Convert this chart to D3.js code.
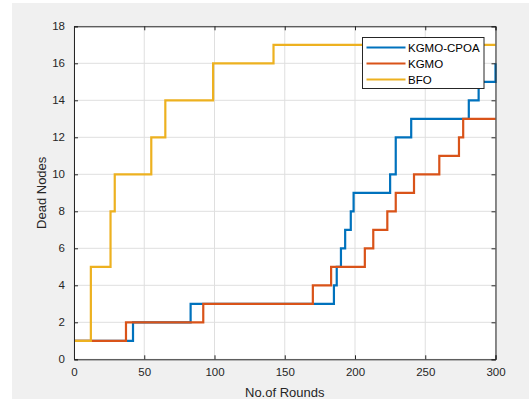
<!DOCTYPE html>
<html>
<head>
<meta charset="utf-8">
<script src="https://cdn.jsdelivr.net/npm/d3@7"></script>
<style>
  body { margin: 0; background: #fff; }
  text { font-family: "Liberation Sans", Arial, sans-serif; }
</style>
</head>
<body>
<div id="chart"></div>
<script>
// step change points: round where the count of dead nodes changes, and its new value
let cpoa_rounds = [0, 42, 83, 185, 187, 190, 193, 197, 199, 225, 229, 240, 281, 288, 300];
let cpoa_dead   = [1, 2, 3, 4, 5, 6, 7, 8, 9, 10, 12, 13, 14, 15, 16];

let kgmo_rounds = [0, 37, 92, 170, 183, 207, 213, 223, 229, 242, 260, 274, 277, 300];
let kgmo_dead   = [1, 2, 3, 4, 5, 6, 7, 8, 9, 10, 11, 12, 13, 13];

let bfo_rounds  = [0, 12, 26, 29, 55, 65, 99, 142, 300];
let bfo_dead    = [1, 5, 8, 10, 12, 14, 16, 17, 17];

let series_names = ['KGMO-CPOA', 'KGMO', 'BFO'];
let series_colors = ['#0072BD', '#D95319', '#EDB120'];

let x_ticks = [0, 50, 100, 150, 200, 250, 300];
let y_ticks = [0, 2, 4, 6, 8, 10, 12, 14, 16, 18];

let chart_width  = 529;
let chart_height = 403;
let plot_left = 74, plot_right = 495.5, plot_top = 26.3, plot_bottom = 359.3;

let svg = d3.select('#chart')
  .append('svg')
  .attr('width', chart_width)
  .attr('height', chart_height);

// figure background
svg.append('rect')
  .attr('x', 12).attr('y', 3)
  .attr('width', chart_width - 12).attr('height', 396)
  .attr('fill', '#f0f0f0');

let x_scale = d3.scaleLinear().domain([0, 300]).range([plot_left, plot_right]);
let y_scale = d3.scaleLinear().domain([0, 18]).range([plot_bottom, plot_top]);

svg.append('rect')
  .attr('x', plot_left).attr('y', plot_top)
  .attr('width', plot_right - plot_left).attr('height', plot_bottom - plot_top)
  .attr('fill', '#fff');

// grid
svg.append('g')
  .selectAll('line')
  .data(x_ticks)
  .enter()
  .append('line')
  .attr('x1', d => x_scale(d)).attr('x2', d => x_scale(d))
  .attr('y1', plot_top).attr('y2', plot_bottom)
  .attr('stroke', '#dfdfdf').attr('stroke-width', 1);

svg.append('g')
  .selectAll('line')
  .data(y_ticks)
  .enter()
  .append('line')
  .attr('x1', plot_left).attr('x2', plot_right)
  .attr('y1', d => y_scale(d)).attr('y2', d => y_scale(d))
  .attr('stroke', '#dfdfdf').attr('stroke-width', 1);

// lines
let series = [
  cpoa_rounds.map((r, i) => [r, cpoa_dead[i]]),
  kgmo_rounds.map((r, i) => [r, kgmo_dead[i]]),
  bfo_rounds.map((r, i) => [r, bfo_dead[i]])
];

let line = d3.line()
  .x(d => x_scale(d[0]))
  .y(d => y_scale(d[1]))
  .curve(d3.curveStepAfter);

svg.append('g')
  .selectAll('path')
  .data(series)
  .enter()
  .append('path')
  .attr('d', line)
  .attr('fill', 'none')
  .attr('stroke', (d, i) => series_colors[i])
  .attr('stroke-width', 2.2);

// axes
let x_axis = d3.axisBottom(x_scale).tickValues(x_ticks).tickSize(-4).tickPadding(9);
let y_axis = d3.axisLeft(y_scale).tickValues(y_ticks).tickSize(-4).tickPadding(9);

let gx = svg.append('g')
  .attr('transform', 'translate(0,' + plot_bottom + ')')
  .call(x_axis);
let gy = svg.append('g')
  .attr('transform', 'translate(' + plot_left + ',0)')
  .call(y_axis);
let gx2 = svg.append('g')
  .attr('transform', 'translate(0,' + plot_top + ')')
  .call(d3.axisTop(x_scale).tickValues(x_ticks).tickSize(-4).tickFormat(''));
let gy2 = svg.append('g')
  .attr('transform', 'translate(' + plot_right + ',0)')
  .call(d3.axisRight(y_scale).tickValues(y_ticks).tickSize(-4).tickFormat(''));

[gx, gy, gx2, gy2].forEach(g => {
  g.selectAll('.domain').attr('stroke', '#262626').attr('stroke-width', 1);
  g.selectAll('.tick line').attr('stroke', '#262626');
  g.selectAll('.tick text')
    .attr('fill', '#262626')
    .style('font-size', '11.5px')
    .style('font-family', '"Liberation Sans", Arial, sans-serif');
});

// axis labels
svg.append('text')
  .text('No.of Rounds')
  .attr('x', (plot_left + plot_right) / 2)
  .attr('y', 397)
  .attr('text-anchor', 'middle')
  .attr('fill', '#262626')
  .style('font-size', '13px');

svg.append('text')
  .text('Dead Nodes')
  .attr('transform', 'translate(46,' + (plot_top + plot_bottom) / 2 + ') rotate(-90)')
  .attr('text-anchor', 'middle')
  .attr('fill', '#262626')
  .style('font-size', '13px');

// legend
let legend = svg.append('g');
legend.append('rect')
  .attr('x', 362.5).attr('y', 37.5)
  .attr('width', 121.5).attr('height', 51)
  .attr('fill', '#fff')
  .attr('stroke', '#262626')
  .attr('stroke-width', 1);

let rows = legend.selectAll('g')
  .data(series_names)
  .enter()
  .append('g')
  .attr('transform', (d, i) => 'translate(0,' + (47.5 + i * 16) + ')');

rows.append('line')
  .attr('x1', 366.5).attr('x2', 405.5)
  .attr('y1', 0).attr('y2', 0)
  .attr('stroke', (d, i) => series_colors[i])
  .attr('stroke-width', 2.2);

rows.append('text')
  .text(d => d)
  .attr('x', 408)
  .attr('y', 4)
  .attr('fill', '#000')
  .style('font-size', '11.5px');
</script>
</body>
</html>
